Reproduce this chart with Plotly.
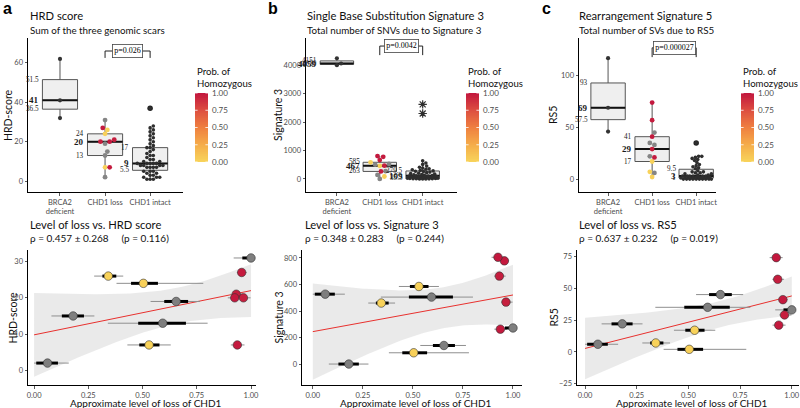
import numpy as np
import plotly.graph_objects as go

W, H = 800, 408
FONT = "Lato"
SERIF = "Liberation Serif"
NB = "\u00a0"

# ---------------- data ----------------
groups = ["BRCA2<br>deficient", "CHD1 loss", "CHD1 intact"]

hrd_brca2 = [32, 41, 62]
sig3_brca2 = [4001, 4059, 4243]
rs5_brca2 = [46, 69, 117]

# CHD1-loss samples (shared by all panels)
loss_level = [1.0, 0.957, 0.342, 0.504, 0.932, 0.925, 0.965, 0.655, 0.18, 0.593, 0.53, 0.937, 0.062]
loss_ci95_lo = [0.92, 0.935, 0.277, 0.38, 0.906, 0.893, 0.94, 0.537, 0.08, 0.34, 0.43, 0.907, 0.0]
loss_ci95_hi = [1.0, 0.98, 0.411, 0.78, 0.963, 0.956, 0.998, 0.765, 0.278, 0.80, 0.63, 0.97, 0.16]
loss_ci50_lo = [0.96, 0.948, 0.315, 0.447, 0.92, 0.912, 0.955, 0.60, 0.128, 0.48, 0.485, 0.925, 0.01]
loss_ci50_hi = [1.0, 0.966, 0.379, 0.571, 0.945, 0.938, 0.978, 0.71, 0.23, 0.70, 0.578, 0.95, 0.11]
loss_prob_hom = [None, 0.98, 0.02, 0.03, 0.97, 0.99, 0.96, None, None, None, 0.02, 0.98, None]
hrd_loss = [31, 27, 26, 24, 21, 20, 20, 19, 15, 13, 7, 7, 2]
sig3_loss = [272, 778, 460, 85, 663, 805, 467, 140, 0, 505, 585, 263, 527]
rs5_loss = [33, 41, 7, 2, 57, 74, 29, 45, 22, 35, 17, 21, 6]

hrd_intact = [1, 1, 1, 2, 2, 2, 3, 3, 4, 4, 5, 5, 5, 7, 7, 7, 7, 8, 8, 8,
              8, 9, 9, 9, 9, 9, 10, 10, 11, 11, 12, 13, 13, 14, 15, 16, 17, 17, 18, 19,
              20, 21, 22, 23, 24, 25, 26, 27, 28, 37]
sig3_intact = [0, 0, 0, 2, 5, 8, 10, 14, 18, 22, 26, 30, 34, 40, 45, 52, 58, 64, 70, 78,
               85, 90, 96, 101, 105, 113, 120, 130, 142, 155, 170, 185, 200, 220, 240, 258, 272, 282, 300, 320,
               340, 360, 380, 410, 450, 510, 560, 640, 2300, 2620]
rs5_intact = [0, 0, 0, 0, 0, 0, 0, 0, 0, 0, 1, 1, 1, 1, 1, 1, 1, 1, 2, 2,
              2, 2, 3, 3, 3, 3, 3, 3, 4, 4, 5, 5, 6, 6, 7, 7, 8, 10, 11, 12,
              13, 14, 16, 18, 19, 20, 21, 22, 22, 35]

pvals = ["p=0.026", "p=0.0042", "p=0.000027"]
titles_top = ["HRD score", "Single Base Substitution Signature 3", "Rearrangement Signature 5"]
subtitles_top = ["Sum of the three genomic scars", "Total number of SNVs due to Signature 3",
                 "Total number of SVs due to RS5"]
titles_bot = ["Level of loss vs. HRD score", "Level of loss vs. Signature 3", "Level of loss vs. RS5"]
subtitles_bot = ["ρ = 0.457 ± 0.268    (p = 0.116)", "ρ = 0.348 ± 0.283    (p = 0.244)",
                 "ρ = 0.637 ± 0.232    (p = 0.019)"]
ylabels = ["HRD-score", "Signature 3", "RS5"]
letters = ["a", "b", "c"]
legend_title = "Prob. of<br>Homozygous"
legend_ticks = [0, 0.25, 0.5, 0.75, 1.0]
xlabel_bot = "Approximate level of loss of CHD1"

colorscale = [[0, "#F8D55B"], [0.25, "#F5AD4A"], [0.5, "#EF8040"], [0.75, "#DD4E40"], [1, "#C2163E"]]

# ---------------- layout geometry (pixels) ----------------
def dx(px):
    return px / W


def dy(py):
    return 1 - py / H


top = [
    dict(x0=28, x1=183, xr=[0.29, 3.73], yr=[-5.5, 72.6], yt=[0, 20, 40, 60], ppx=45, ppy=1.983,
         br=(66, 62.5), cb=195, ylab=8, tx=28, letx=1),
    dict(x0=306, x1=457, xr=[0.28, 3.80], yr=[-460, 4956], yt=[0, 1000, 2000, 3000, 4000], ppx=42.8,
         ppy=0.02825, br=(4673, 4354), cb=466, ylab=278, tx=305, letx=266),
    dict(x0=579, x1=716, xr=[0.34, 3.45], yr=[-12.5, 136.5], yt=[0, 50, 100], ppx=44, ppy=1.04,
         br=(127, 118), cb=741, ylab=553, tx=577, letx=540),
]
bot = [
    dict(x0=28, x1=256, xr=[-0.028, 1.023], yr=[-4.05, 33.2], yt=[0, 10, 20, 30], ylab=12, tx=28),
    dict(x0=302, x1=522, xr=[-0.054, 1.045], yr=[-158, 860], yt=[0, 200, 400, 600, 800], ylab=278, tx=303),
    dict(x0=577, x1=799, xr=[-0.039, 1.035], yr=[-26, 80], yt=[-25, 0, 25, 50, 75], ylab=553, tx=577),
]
TOP_Y = (38, 192)
BOT_Y = (250, 385)
CB_Y = (93, 162)

fig = go.Figure()
annotations = []
shapes = []
layout_axes = {}

tickfont = dict(family=FONT, size=7.5, color="#4D4D4D")


def axis_common(domain, rng):
    return dict(domain=domain, range=rng, showline=True, linecolor="black", linewidth=1,
                ticks="outside", ticklen=2.5, tickwidth=0.8, tickcolor="#333333", showgrid=False,
                zeroline=False, tickfont=tickfont, fixedrange=True)


def swarm(vals, center, ppy, ppx, d, maxw):
    vals = np.asarray(vals, dtype=float)
    order = np.argsort(vals, kind="stable")
    placed = []
    xs = np.zeros(len(vals))
    step = d / 4.0
    cands = [0.0]
    k = 1
    while k * step <= maxw:
        cands += [k * step, -k * step]
        k += 1
    for i in order:
        y = vals[i] * ppy
        best, bestd = 0.0, -1.0
        for c in cands:
            md = min([np.hypot(c - px, y - py) for (px, py) in placed] + [1e9])
            if md >= d * 0.99:
                best = c
                break
            if md > bestd + 0.3:
                best, bestd = c, md
        placed.append((best, y))
        xs[i] = center + best / ppx
    return xs


def box_stats(vals):
    v = np.asarray(vals, dtype=float)
    q1, med, q3 = np.percentile(v, [25, 50, 75])
    iqr = q3 - q1
    lo = v[v >= q1 - 1.5 * iqr].min()
    hi = v[v <= q3 + 1.5 * iqr].max()
    out = v[(v < q1 - 1.5 * iqr) | (v > q3 + 1.5 * iqr)]
    return q1, med, q3, lo, hi, out


def fmt(v):
    return ("%.1f" % v).rstrip("0").rstrip(".")


top_data = [
    (hrd_brca2, hrd_loss, hrd_intact),
    (sig3_brca2, sig3_loss, sig3_intact),
    (rs5_brca2, rs5_loss, rs5_intact),
]
bot_y = [hrd_loss, sig3_loss, rs5_loss]

BOXW = 0.78
for p in range(3):
    g = top[p]
    xa = "x" if p == 0 else "x%d" % (p + 1)
    ya = "y" if p == 0 else "y%d" % (p + 1)
    xk = "xaxis" if p == 0 else "xaxis%d" % (p + 1)
    yk = "yaxis" if p == 0 else "yaxis%d" % (p + 1)
    ax = axis_common([dx(g["x0"]), dx(g["x1"])], g["xr"])
    ax.update(tickvals=[1, 2, 3], ticktext=groups, anchor=ya)
    ay = axis_common([dy(TOP_Y[1]), dy(TOP_Y[0])], g["yr"])
    ay.update(tickvals=g["yt"], anchor=xa)
    layout_axes[xk] = ax
    layout_axes[yk] = ay

    for gi, vals in enumerate(top_data[p]):
        xc = gi + 1
        q1, med, q3, lo, hi, out = box_stats(vals)
        fig.add_trace(go.Box(x=[xc], q1=[q1], median=[med], q3=[q3], lowerfence=[lo], upperfence=[hi],
                             width=BOXW, fillcolor="#EFEFEF", line=dict(color="#555555", width=1),
                             whiskerwidth=0, boxpoints=False, xaxis=xa, yaxis=ya, showlegend=False,
                             hoverinfo="skip"))
        fig.add_trace(go.Scatter(x=[xc - BOXW / 2, xc + BOXW / 2], y=[med, med], mode="lines",
                                 line=dict(color="#111111", width=2), xaxis=xa, yaxis=ya,
                                 showlegend=False, hoverinfo="skip"))
        lx = xc - BOXW / 2 - 0.03
        for val, bold in ((q3, False), (med, True), (q1, False)):
            annotations.append(dict(x=lx, y=val, xref=xa, yref=ya, xanchor="right", yanchor="middle",
                                    showarrow=False, text=("<b>%s</b>" % fmt(val)) if bold else fmt(val),
                                    font=dict(family=SERIF, size=9 if bold else 7.2, color="#1A1A1A")))
        if len(out):
            if p == 1:
                fig.add_trace(go.Scatter(x=[xc] * len(out), y=out, mode="markers",
                                         marker=dict(symbol="asterisk-open", size=7, color="#333333",
                                                     line=dict(color="#333333", width=1.2)),
                                         xaxis=xa, yaxis=ya, showlegend=False, hoverinfo="skip"))
            else:
                fig.add_trace(go.Scatter(x=[xc] * len(out), y=out, mode="markers",
                                         marker=dict(color="#222222", size=5.5),
                                         xaxis=xa, yaxis=ya, showlegend=False, hoverinfo="skip"))
        if gi == 1:
            xs = swarm(vals, xc, g["ppy"], g["ppx"], 4.6, 0.36 * g["ppx"])
            probs = loss_prob_hom
            idx_c = [i for i in range(len(vals)) if probs[i] is not None]
            idx_g = [i for i in range(len(vals)) if probs[i] is None]
            fig.add_trace(go.Scatter(x=[xs[i] for i in idx_g], y=[vals[i] for i in idx_g], mode="markers",
                                     marker=dict(color="#858585", size=4.8),
                                     xaxis=xa, yaxis=ya, showlegend=False, hoverinfo="skip"))
            fig.add_trace(go.Scatter(
                x=[xs[i] for i in idx_c], y=[vals[i] for i in idx_c], mode="markers",
                marker=dict(color=[probs[i] for i in idx_c], colorscale=colorscale, cmin=0, cmax=1,
                            size=4.8, showscale=False),
                xaxis=xa, yaxis=ya, showlegend=False, hoverinfo="skip"))
        else:
            d = 3.2 if gi == 2 else 4.2
            xs = swarm(vals, xc, g["ppy"], g["ppx"], d, 0.36 * g["ppx"])
            fig.add_trace(go.Scatter(x=xs, y=vals, mode="markers",
                                     marker=dict(color="#2E2E2E" if gi == 2 else "#333333",
                                                 size=3.6 if gi == 2 else 4.2),
                                     xaxis=xa, yaxis=ya, showlegend=False, hoverinfo="skip"))

    # p-value bracket
    yb1, yb0 = g["br"]
    shapes.append(dict(type="path", xref=xa, yref=ya,
                       path="M 2 %s L 2 %s L 3 %s L 3 %s" % (yb0, yb1, yb1, yb0),
                       line=dict(color="#222222", width=1)))
    annotations.append(dict(x=2.5, y=yb1, xref=xa, yref=ya, showarrow=False, text=pvals[p],
                            font=dict(family=SERIF, size=8, color="#000000"), bgcolor="white",
                            bordercolor="#444444", borderwidth=0.8, borderpad=1.5))

    # colour legend: gradient bar drawn on its own small axes
    n = 7 + p
    cxa, cya = "x%d" % n, "y%d" % n
    grad = np.linspace(0, 1, 101)
    fig.add_trace(go.Heatmap(z=[[v] for v in grad], x=[0], y=grad, colorscale=colorscale, zmin=0, zmax=1,
                             showscale=False, xaxis=cxa, yaxis=cya, hoverinfo="skip"))
    layout_axes["xaxis%d" % n] = dict(domain=[dx(g["cb"]), dx(g["cb"] + 13)], range=[-0.5, 0.5],
                                      visible=False, fixedrange=True, anchor=cya)
    layout_axes["yaxis%d" % n] = dict(domain=[dy(CB_Y[1]), dy(CB_Y[0])], range=[0, 1], side="right",
                                      anchor=cxa, showline=False, showgrid=False, zeroline=False,
                                      ticks="", tickvals=legend_ticks,
                                      ticktext=["%.2f" % t for t in legend_ticks], ticklabelstandoff=3,
                                      tickfont=dict(family=FONT, size=8, color="#4D4D4D"), fixedrange=True)
    for t in legend_ticks:
        for (a, b) in ((-0.5, -0.3), (0.3, 0.5)):
            shapes.append(dict(type="line", xref=cxa, yref=cya, x0=a, x1=b, y0=t, y1=t,
                               line=dict(color="white", width=0.8)))
    annotations.append(dict(x=dx(g["cb"]), y=dy(CB_Y[0] - 2), xref="paper", yref="paper", xanchor="left",
                            yanchor="bottom", align="left", showarrow=False, text=legend_title,
                            font=dict(family=FONT, size=9.6, color="#111111")))

    # titles
    annotations.append(dict(x=dx(g["letx"]), y=dy(8), xref="paper", yref="paper", xanchor="left",
                            yanchor="middle", showarrow=False, text="<b>%s</b>" % letters[p],
                            font=dict(family="Liberation Sans", size=16, color="black")))
    annotations.append(dict(x=dx(g["tx"]), y=dy(16), xref="paper", yref="paper", xanchor="left",
                            yanchor="middle", showarrow=False, text=titles_top[p],
                            font=dict(family=FONT, size=11.2, color="#111111")))
    annotations.append(dict(x=dx(g["tx"]), y=dy(30), xref="paper", yref="paper", xanchor="left",
                            yanchor="middle", showarrow=False, text=subtitles_top[p],
                            font=dict(family=FONT, size=9.8, color="#111111")))
    annotations.append(dict(x=dx(g["ylab"]), y=dy((TOP_Y[0] + TOP_Y[1]) / 2), xref="paper", yref="paper",
                            xanchor="center", yanchor="middle", showarrow=False, text=ylabels[p],
                            textangle=-90, font=dict(family=FONT, size=10.5, color="#111111")))

# ---------------- bottom scatter panels ----------------
T_CRIT = 2.201  # t(0.975, df=11)
xl = np.asarray(loss_level)
for p in range(3):
    g = bot[p]
    n = p + 4
    xa, ya = "x%d" % n, "y%d" % n
    ax = axis_common([dx(g["x0"]), dx(g["x1"])], g["xr"])
    ax.update(tickvals=[0, 0.25, 0.5, 0.75, 1.0], ticktext=["0.00", "0.25", "0.50", "0.75", "1.00"], anchor=ya)
    ay = axis_common([dy(BOT_Y[1]), dy(BOT_Y[0])], g["yr"])
    ay.update(tickvals=g["yt"], anchor=xa)
    layout_axes["xaxis%d" % n] = ax
    layout_axes["yaxis%d" % n] = ay

    yv = np.asarray(bot_y[p], dtype=float)
    b1, b0 = np.polyfit(xl, yv, 1)
    resid = yv - (b0 + b1 * xl)
    s = np.sqrt(np.sum(resid ** 2) / (len(xl) - 2))
    sxx = np.sum((xl - xl.mean()) ** 2)
    xg = np.linspace(0, 1, 80)
    fit = b0 + b1 * xg
    se = s * np.sqrt(1 / len(xl) + (xg - xl.mean()) ** 2 / sxx)
    fig.add_trace(go.Scatter(x=np.concatenate([xg, xg[::-1]]),
                             y=np.concatenate([fit + T_CRIT * se, (fit - T_CRIT * se)[::-1]]),
                             fill="toself", fillcolor="rgba(200,200,200,0.38)", line=dict(width=0),
                             mode="lines", xaxis=xa, yaxis=ya, showlegend=False, hoverinfo="skip"))
    fig.add_trace(go.Scatter(x=xg, y=fit, mode="lines", line=dict(color="#E8312E", width=1),
                             xaxis=xa, yaxis=ya, showlegend=False, hoverinfo="skip"))
    thin_x, thin_y, thick_x, thick_y = [], [], [], []
    for i in range(len(xl)):
        thin_x += [loss_ci95_lo[i], loss_ci95_hi[i], None]
        thin_y += [yv[i], yv[i], None]
        thick_x += [loss_ci50_lo[i], loss_ci50_hi[i], None]
        thick_y += [yv[i], yv[i], None]
    fig.add_trace(go.Scatter(x=thin_x, y=thin_y, mode="lines", line=dict(color="#8F8F8F", width=1),
                             xaxis=xa, yaxis=ya, showlegend=False, hoverinfo="skip"))
    fig.add_trace(go.Scatter(x=thick_x, y=thick_y, mode="lines", line=dict(color="black", width=3),
                             xaxis=xa, yaxis=ya, showlegend=False, hoverinfo="skip"))
    idx_c = [i for i in range(len(xl)) if loss_prob_hom[i] is not None]
    idx_g = [i for i in range(len(xl)) if loss_prob_hom[i] is None]
    fig.add_trace(go.Scatter(x=xl[idx_g], y=yv[idx_g], mode="markers",
                             marker=dict(color="#7F7F7F", size=8.5, line=dict(color="#333333", width=0.6)),
                             xaxis=xa, yaxis=ya, showlegend=False, hoverinfo="skip"))
    fig.add_trace(go.Scatter(x=xl[idx_c], y=yv[idx_c], mode="markers",
                             marker=dict(color=[loss_prob_hom[i] for i in idx_c], colorscale=colorscale,
                                         cmin=0, cmax=1, showscale=False, size=8.5,
                                         line=dict(color="#333333", width=0.6)),
                             xaxis=xa, yaxis=ya, showlegend=False, hoverinfo="skip"))

    annotations.append(dict(x=dx(g["tx"]), y=dy(224), xref="paper", yref="paper", xanchor="left",
                            yanchor="middle", showarrow=False, text=titles_bot[p],
                            font=dict(family=FONT, size=11.2, color="#111111")))
    annotations.append(dict(x=dx(g["tx"]), y=dy(238), xref="paper", yref="paper", xanchor="left",
                            yanchor="middle", showarrow=False, text=subtitles_bot[p].replace("    ", NB * 5),
                            font=dict(family=FONT, size=10, color="#111111")))
    annotations.append(dict(x=dx(g["ylab"]), y=dy((BOT_Y[0] + BOT_Y[1]) / 2), xref="paper", yref="paper",
                            xanchor="center", yanchor="middle", showarrow=False, text=ylabels[p],
                            textangle=-90, font=dict(family=FONT, size=10.5, color="#111111")))
    annotations.append(dict(x=dx((g["x0"] + g["x1"]) / 2 + 4), y=dy(402.5), xref="paper", yref="paper",
                            xanchor="center", yanchor="middle", showarrow=False, text=xlabel_bot,
                            font=dict(family=FONT, size=10, color="#111111")))

fig.update_layout(width=W, height=H, margin=dict(l=0, r=0, t=0, b=0, autoexpand=False),
                  paper_bgcolor="white", plot_bgcolor="white", showlegend=False,
                  annotations=annotations, shapes=shapes, font=dict(family=FONT), **layout_axes)
fig.write_html("out.html", config={"displayModeBar": False, "staticPlot": True},
               post_script="document.body.style.margin='0px';document.body.style.overflow='hidden';")
